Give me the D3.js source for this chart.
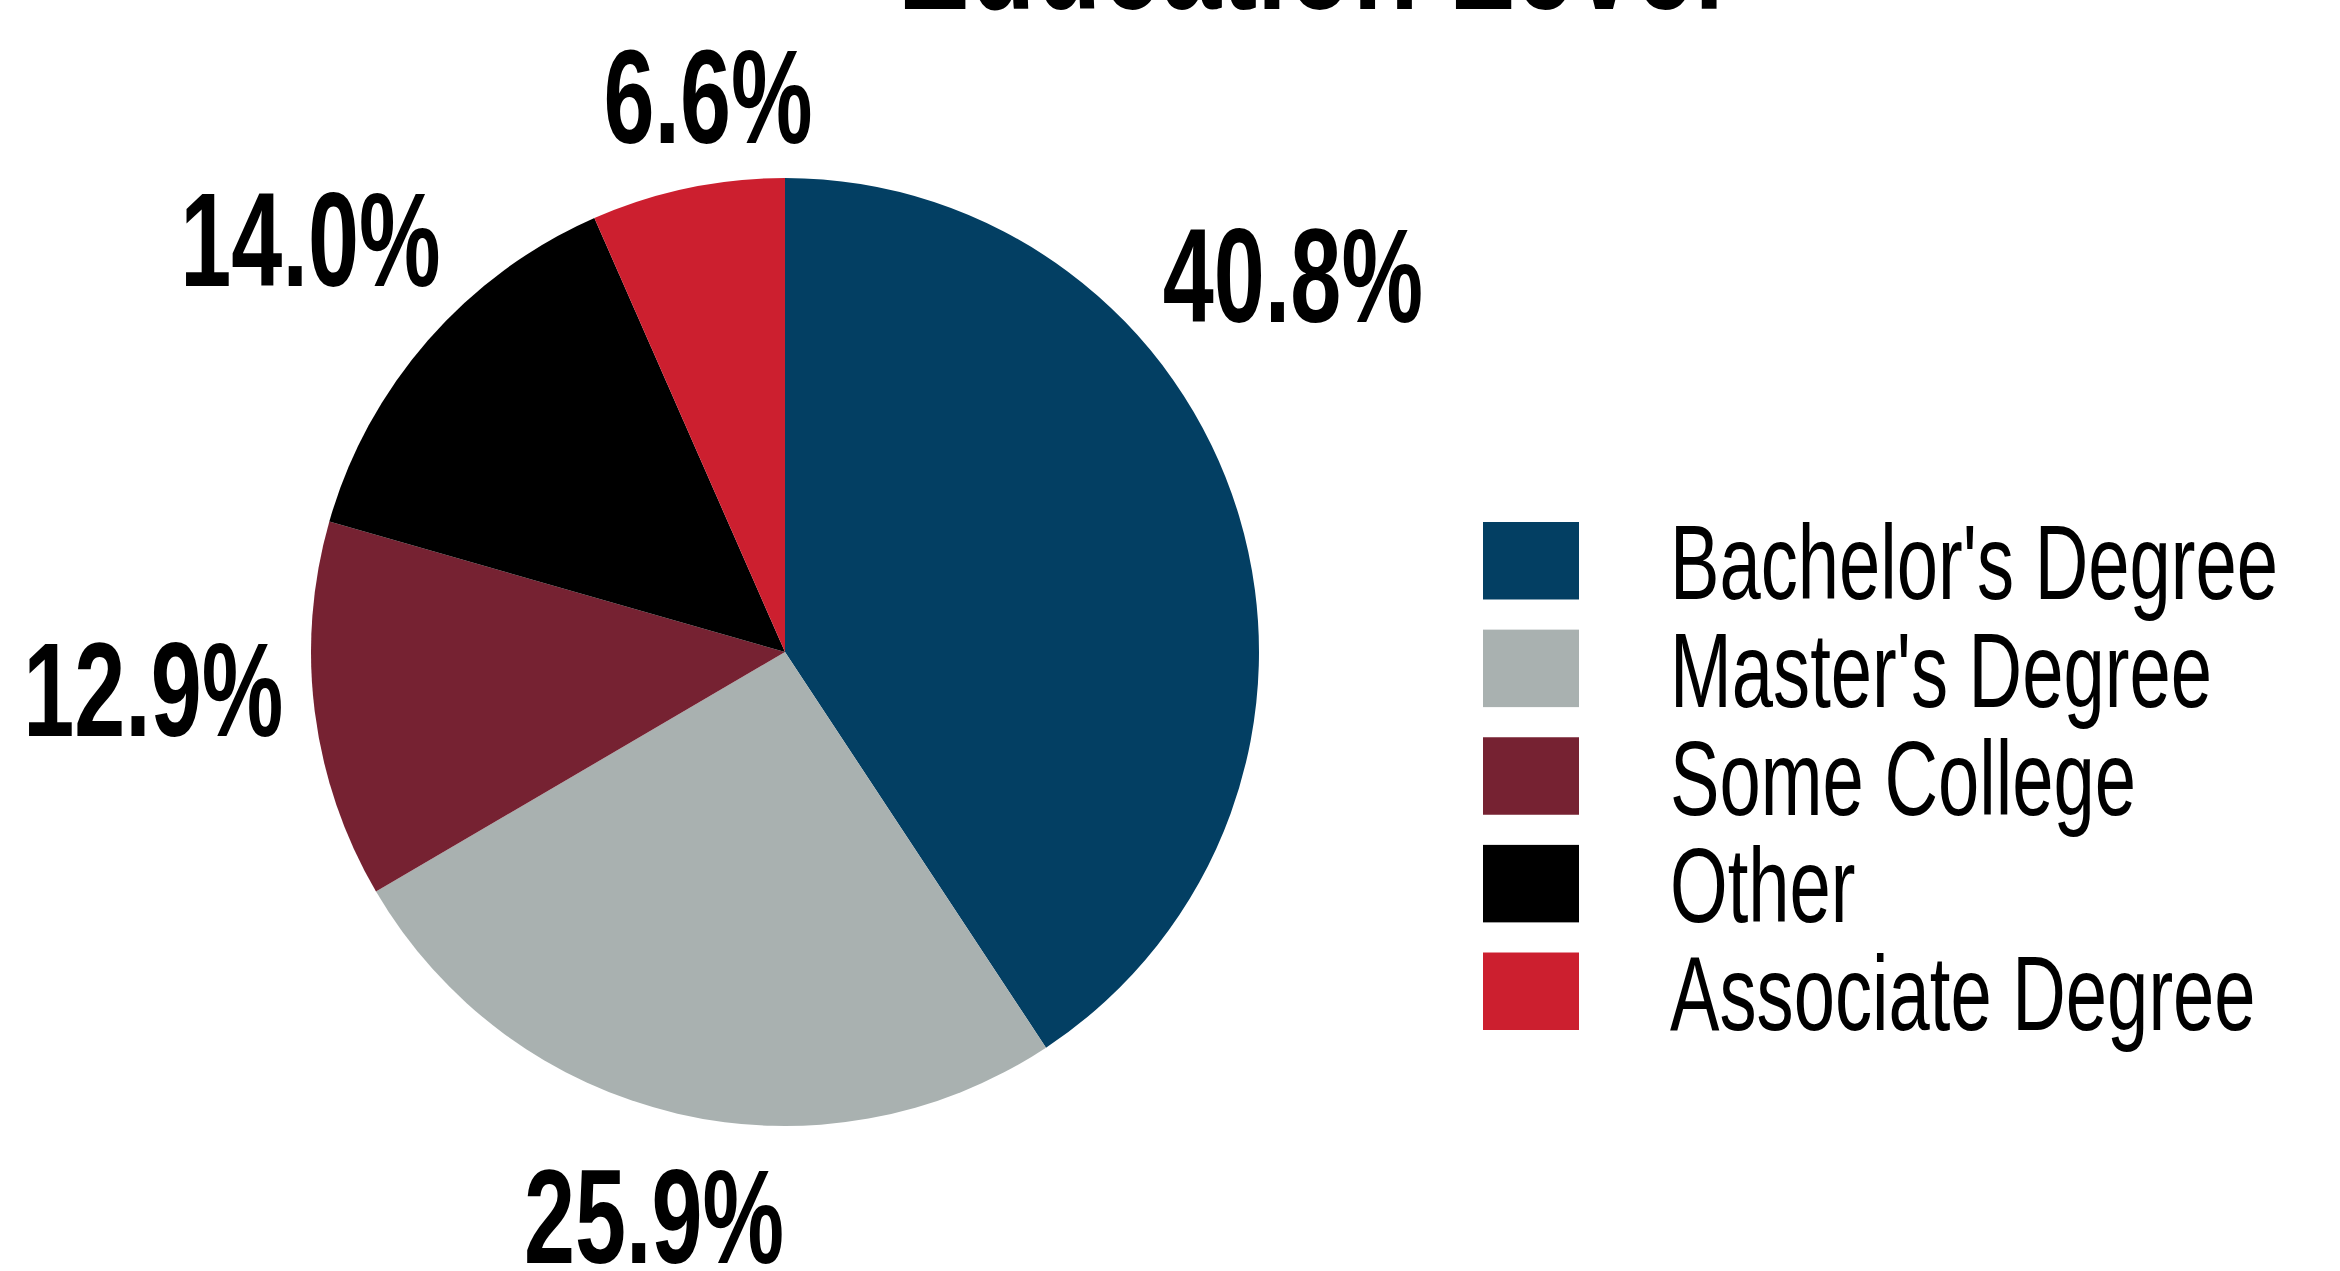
<!DOCTYPE html>
<html>
<head>
<meta charset="utf-8">
<script src="https://cdn.jsdelivr.net/npm/d3@7/dist/d3.min.js"></script>
<style>
  html, body { margin: 0; padding: 0; background: #ffffff; }
  svg { display: block; }
</style>
</head>
<body>
<svg id="chart" width="2340" height="1271"></svg>
<script>
// Education level breakdown (percent of respondents)
const categories = ["Bachelor's Degree", "Master's Degree", "Some College", "Other", "Associate Degree"];
const values = [40.8, 25.9, 12.9, 14.0, 6.6];
const labels = ["40.8%", "25.9%", "12.9%", "14.0%", "6.6%"];
const colors = ["#033f63", "#a9b1b0", "#762232", "#000000", "#cc1f2f"];
const title = "Education Level";

// Layout
const W = 2340, H = 1271;
const cx = 785, cy = 652, R = 474;
const condense = 0.7;             // horizontal squeeze for a narrow display face
const labelCondense = 0.685;
const capRatio = 0.729;           // cap height / font size for Liberation Sans
const labelFont = 134;
const labelGap = 26;
// angular nudges (degrees) so labels clear the legend and sit evenly around the rim
const labelAngleShift = { "Bachelor's Degree": -20, "Some College": 4, "Associate Degree": 4 };
const legendX = 1483, swatchW = 96, legendTextX = 1670, legendFont = 106;

const svg = d3.select("#chart");

const data = categories.map((c, i) => ({ category: c, value: values[i], label: labels[i] }));

const color = d3.scaleOrdinal().domain(categories).range(colors);

const pie = d3.pie().value(d => d.value).sort(null);
const arcs = pie(data);
const arc = d3.arc().innerRadius(0).outerRadius(R);

const g = svg.append("g").attr("transform", `translate(${cx},${cy})`);

g.selectAll("path.slice")
  .data(arcs)
  .join("path")
  .attr("class", "slice")
  .attr("d", arc)
  .attr("fill", d => color(d.data.category));

// Percentage labels outside the pie, pushed out by their own box extent
const lbl = g.selectAll("text.pct")
  .data(arcs)
  .join("text")
  .attr("class", "pct")
  .attr("font-family", "'Liberation Sans', Arial, sans-serif")
  .attr("font-weight", "bold")
  .attr("font-size", labelFont)
  .attr("text-anchor", "middle")
  .attr("fill", "#000")
  .text(d => d.data.label);

lbl.each(function(d) {
  const node = this;
  const hw = node.getComputedTextLength() * labelCondense / 2;
  const hh = capRatio * labelFont / 2;
  const shift = (labelAngleShift[d.data.category] || 0) * Math.PI / 180;
  const a = (d.startAngle + d.endAngle) / 2 + shift;
  const r = R + labelGap + Math.abs(Math.sin(a)) * hw + Math.abs(Math.cos(a)) * hh;
  const x = r * Math.sin(a);
  const y = -r * Math.cos(a) + hh;
  d3.select(node).attr("transform", `translate(${x},${y}) scale(${labelCondense},1)`);
});

// Title (sits mostly above the visible frame)
svg.append("text")
  .attr("font-family", "'Liberation Sans', Arial, sans-serif")
  .attr("font-weight", "bold")
  .attr("font-size", 154)
  .attr("text-anchor", "middle")
  .attr("fill", "#000")
  .attr("transform", `translate(1311,9) scale(${condense},1)`)
  .text(title);

// Legend
const rows = d3.scaleBand().domain(categories).range([522, 1030]).paddingInner(0.28).paddingOuter(0);

const legend = svg.append("g").attr("class", "legend");
const item = legend.selectAll("g.item")
  .data(categories)
  .join("g")
  .attr("class", "item");

item.append("rect")
  .attr("x", legendX)
  .attr("y", d => rows(d))
  .attr("width", swatchW)
  .attr("height", rows.bandwidth())
  .attr("fill", d => color(d));

item.append("text")
  .attr("font-family", "'Liberation Sans', Arial, sans-serif")
  .attr("font-size", legendFont)
  .attr("fill", "#000")
  .attr("transform", d => `translate(${legendTextX},${rows(d) + rows.bandwidth() / 2 + capRatio * legendFont / 2}) scale(${condense},1)`)
  .text(d => d);
</script>
</body>
</html>
